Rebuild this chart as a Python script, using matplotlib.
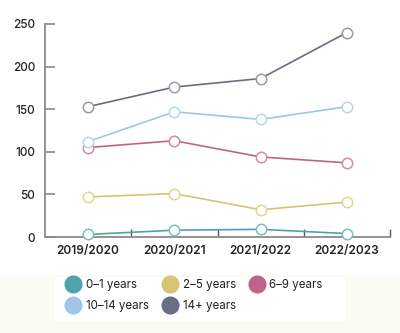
import numpy as np
import matplotlib
matplotlib.use('Agg')
import matplotlib.pyplot as plt
from matplotlib.patches import Rectangle

plt.rcParams['font.family'] = ['Inter', 'DejaVu Sans']

# vehicle age groups per year
years = ['2019/2020', '2020/2021', '2021/2022', '2022/2023']
age_0_1 = [3, 8, 9, 4]
age_2_5 = [47, 51, 32, 41]
age_6_9 = [105, 113, 94, 87]
age_10_14 = [112, 147, 138, 153]
age_14_plus = [153, 176, 186, 240]

series = [
    ('0\u20131 years', age_0_1, '#4ea3aa', '#7dbfc4'),
    ('2\u20135 years', age_2_5, '#d8c470', '#e4d492'),
    ('6\u20139 years', age_6_9, '#c06389', '#d48aa8'),
    ('10\u201314 years', age_10_14, '#9fc6e8', '#b8d6f0'),
    ('14+ years', age_14_plus, '#6b6d85', '#9899aa'),
]

fig = plt.figure(figsize=(4, 3.33), dpi=100)
fig.patch.set_facecolor('white')
# pale strip behind the legend
fig.patches.append(Rectangle((0, 0), 1, 1 - 275 / 333, transform=fig.transFigure,
                             facecolor='#f9fcf3', edgecolor='none', zorder=-2))
fig.patches.append(Rectangle((55 / 400, 1 - 321 / 333), 290 / 400, 44 / 333,
                             transform=fig.transFigure, facecolor='white',
                             edgecolor='none', zorder=-1))

ax = fig.add_axes([45 / 400, 1 - 237 / 333, 345 / 400, 213 / 333])
x = np.arange(len(years))
handles = []
for label, vals, col, edge in series:
    ax.plot(x, vals, color=col, lw=1.2, marker='o', ms=7.5, mfc='white',
            mec=edge, mew=1.1, clip_on=False, zorder=3)
    h, = ax.plot([], [], ls='none', marker='o', ms=12, color=col, label=label)
    handles.append(h)

ax.set_xlim(-0.5, 3.5)
ax.set_ylim(0, 250)
ax.set_yticks([0, 50, 100, 150, 200, 250])
ax.set_xticks(x)
ax.set_xticklabels(years, fontweight='semibold')
ax.set_xticks([0.5, 1.5, 2.5, 3.5], minor=True)

for s in ['top', 'right']:
    ax.spines[s].set_visible(False)
for s in ['left', 'bottom']:
    ax.spines[s].set_color('#8a8a8a')
    ax.spines[s].set_linewidth(1.3)

ax.tick_params(axis='y', direction='in', length=7, width=1.2, color='#8a8a8a',
               labelsize=8.5, labelcolor='#222222', pad=7)
ax.tick_params(axis='x', which='major', length=0, labelsize=8.5,
               labelcolor='#222222', pad=6)
ax.tick_params(axis='x', which='minor', direction='in', length=6, width=1,
               color='#555555')
for t in ax.get_yticklabels():
    t.set_fontweight('medium')

# legend fills by column, so order the entries to read across rows
order = [0, 3, 1, 4, 2]
fig.legend(handles=[handles[i] for i in order], ncol=3, loc='upper left',
           bbox_to_anchor=(55 / 400, 1 - 270 / 333), frameon=False,
           fontsize=8.3, handlelength=1.6, handletextpad=0.3,
           columnspacing=1.0, labelspacing=0.75, borderpad=0.3,
           labelcolor='#222222')

fig.savefig('out.png', dpi=100)
